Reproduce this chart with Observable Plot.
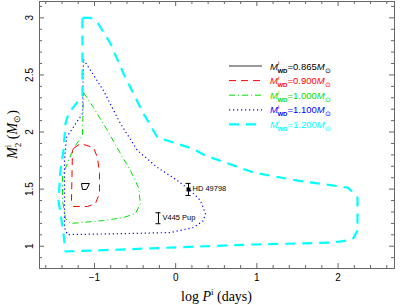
<!DOCTYPE html>
<html><head><meta charset="utf-8">
<script src="https://cdn.jsdelivr.net/npm/d3@7"></script>
<script src="https://cdn.jsdelivr.net/npm/@observablehq/plot@0.6"></script>
<style>body{margin:0;background:#fff} #c{width:401px;height:305px}</style>
</head><body><div id="c"></div>
<script>
// ---- data ----
const massLabels = ["0.865", "0.900", "1.000", "1.100", "1.200"];
const seriesColors = ["#000000", "#ff0000", "#00e000", "#0000ff", "#00ffff"];

const logP_0865 = [-1.160, -1.062, -1.099, -1.148, -1.160];
const m2_0865   = [1.549, 1.549, 1.497, 1.497, 1.549];

const logP_0900 = [-1.259, -1.172, -1.012, -0.963, -0.938, -0.938, -0.988, -1.086, -1.259, -1.283, -1.271, -1.259];
const m2_0900   = [1.856, 1.899, 1.864, 1.777, 1.637, 1.462, 1.374, 1.348, 1.348, 1.400, 1.838, 1.856];

const logP_1000 = [-1.135, -1.012, -0.840, -0.680, -0.557, -0.458, -0.434, -0.495, -0.643, -0.889, -1.296, -1.357, -1.394, -1.394, -1.259, -1.148, -1.135];
const m2_1000   = [2.345, 2.214, 2.013, 1.812, 1.663, 1.514, 1.374, 1.286, 1.251, 1.225, 1.199, 1.243, 1.400, 1.619, 1.856, 1.970, 2.345];

const logP_1100 = [-1.135, -0.889, -0.680, -0.470, -0.224, 0.022, 0.182, 0.305, 0.367, 0.342, 0.219, -0.064, -0.594, -1.333, -1.369, -1.369, -1.345, -1.148, -1.135];
const m2_1100   = [2.635, 2.363, 2.074, 1.838, 1.689, 1.575, 1.488, 1.400, 1.286, 1.225, 1.164, 1.120, 1.111, 1.102, 1.164, 1.750, 1.952, 2.162, 2.635];

const logP_1200 = [-1.148, -1.049, -0.963, -0.803, -0.643, -0.397, -0.224, -0.027, 0.207, 0.367, 0.958, 1.500, 2.116, 2.190, 2.239, 2.239, 2.177, 1.943, 0.958, 0.367, -0.680, -1.357, -1.382, -1.443, -1.419, -1.382, -1.357, -1.320, -1.148, -1.148];
const m2_1200   = [3.000, 3.000, 2.959, 2.775, 2.512, 2.162, 1.952, 1.908, 1.855, 1.794, 1.645, 1.575, 1.514, 1.470, 1.426, 1.137, 1.058, 1.032, 1.015, 1.000, 0.971, 0.954, 1.112, 1.400, 1.663, 1.838, 2.074, 2.162, 2.319, 3.000];

const objNames = ["HD 49798", "V445 Pup"];
const objLogP  = [0.158, -0.212];
const objM2    = [1.497, 1.245];
const objErr   = [0.053, 0.048];
const objFilled = [true, false];

const xMajor = [-1, 0, 1, 2];
const xMinor = [-1.6, -1.4, -1.2, -0.8, -0.6, -0.4, -0.2, 0.2, 0.4, 0.6, 0.8, 1.2, 1.4, 1.6, 1.8, 2.2, 2.4, 2.6];
const yMajor = [1, 1.5, 2, 2.5, 3];
const yMinor = [0.9, 1.1, 1.2, 1.3, 1.4, 1.6, 1.7, 1.8, 1.9, 2.1, 2.2, 2.3, 2.4, 2.6, 2.7, 2.8, 2.9, 3.1];

// ---- build ----
const series = [
  [logP_0865, m2_0865], [logP_0900, m2_0900], [logP_1000, m2_1000], [logP_1100, m2_1100], [logP_1200, m2_1200]
];
const lineStyle = [
  {strokeWidth: 1, dash: null},
  {strokeWidth: 1, dash: "7,5"},
  {strokeWidth: 1, dash: "6,3,1,3"},
  {strokeWidth: 1.2, dash: "1.2,2.8"},
  {strokeWidth: 2.2, dash: "10,7"}
];
const objects = objNames.map((n, i) => ({name: n, x: objLogP[i], y: objM2[i], lo: objM2[i] - objErr[i], hi: objM2[i] + objErr[i], filled: objFilled[i]}));

const W = 401, H = 305, mL = 39, mR = 7, mT = 1, mB = 37;
const xDom = [-1.677, 2.695], yDom = [0.805, 3.143];
const tickColor = "#666";
const fmt = d => (d < 0 ? "\u2212" + Math.abs(d) : String(d));

const marks = [];
series.forEach(([xs, ys], i) => {
  const rows = xs.map((x, j) => ({x, y: ys[j]}));
  marks.push(Plot.line(rows, {x: "x", y: "y", stroke: seriesColors[i], strokeWidth: lineStyle[i].strokeWidth,
    strokeDasharray: lineStyle[i].dash, strokeLinecap: "butt", curve: "linear"}));
});
// inward tick marks on all four sides, positioned by the scales
const tickX = (vals, len, atTop) => Plot.ruleX(vals, {x: d => d, y1: atTop ? yDom[1] : yDom[0], y2: atTop ? yDom[1] : yDom[0],
  ...(atTop ? {insetBottom: -len} : {insetTop: -len}), stroke: tickColor, strokeWidth: 1});
const tickY = (vals, len, atRight) => Plot.ruleY(vals, {y: d => d, x1: atRight ? xDom[1] : xDom[0], x2: atRight ? xDom[1] : xDom[0],
  ...(atRight ? {insetLeft: -len} : {insetRight: -len}), stroke: tickColor, strokeWidth: 1});
marks.push(
  Plot.ruleX(objects, {x: "x", y1: "lo", y2: "hi", stroke: "#000", strokeWidth: 1}),
  Plot.ruleY(objects, {y: "lo", x1: "x", x2: "x", insetLeft: -2.5, insetRight: -2.5, stroke: "#000"}),
  Plot.ruleY(objects, {y: "hi", x1: "x", x2: "x", insetLeft: -2.5, insetRight: -2.5, stroke: "#000"}),
  Plot.dot(objects.filter(d => d.filled), {x: "x", y: "y", symbol: "square", r: 2.2, fill: "#000", stroke: null}),
  Plot.text(objects, {x: "x", y: "y", text: "name", textAnchor: "start", dx: 4, dy: -1, fontSize: 7.5, fill: "#000",
    fontFamily: "Liberation Sans, Arial, sans-serif"}),
  Plot.frame({stroke: tickColor}),
  tickX(xMajor, 5, false), tickX(xMinor, 3, false), tickX(xMajor, 5, true), tickX(xMinor, 3, true),
  tickY(yMajor, 5, false), tickY(yMinor, 3, false), tickY(yMajor, 5, true), tickY(yMinor, 3, true),
  // tick labels
  Plot.axisX(xMajor, {anchor: "bottom", tickSize: 0, tickPadding: 5, tickFormat: fmt, label: null, fontSize: 10}),
  Plot.text(yMajor, {y: d => d, text: d => String(d), frameAnchor: "left", rotate: -90, dx: -10, fontSize: 10,
    fill: "#000", lineAnchor: "middle", textAnchor: "middle"})
);

const chart = Plot.plot({
  width: W, height: H, marginLeft: mL, marginRight: mR, marginTop: mT, marginBottom: mB,
  style: {fontFamily: "Liberation Sans, Arial, sans-serif", background: "#fff"},
  x: {domain: xDom, label: null},
  y: {domain: yDom, label: null, axis: null},
  marks
});
document.getElementById("c").appendChild(chart);

// ---- legend and axis titles (rich text) ----
const svg = d3.select(chart);
const lg = svg.append("g").attr("font-family", "Liberation Sans, Arial, sans-serif").attr("text-anchor", "start");
const legendLineColors = ["#777", "#ff0000", "#00e000", "#0000ff", "#00ffff"];
massLabels.forEach((m, i) => {
  const y = 66 + i * 14.6;
  lg.append("line").attr("x1", 229).attr("x2", 262).attr("y1", y).attr("y2", y)
    .attr("stroke", legendLineColors[i]).attr("stroke-width", i === 0 ? 1.5 : lineStyle[i].strokeWidth)
    .attr("stroke-dasharray", lineStyle[i].dash);
  const t = lg.append("text").attr("x", 270).attr("y", y + 3.5).attr("fill", seriesColors[i])
    .attr("font-size", 9.5).attr("text-anchor", "start");
  t.append("tspan").attr("font-style", "italic").text("M");
  t.append("tspan").attr("dy", -4.5).attr("font-size", 6).text("i");
  t.append("tspan").attr("dx", -1.8).attr("dy", 7.5).attr("font-size", 6).attr("font-weight", "bold").text("WD");
  t.append("tspan").attr("dy", -3).text("=" + m);
  t.append("tspan").attr("font-style", "italic").text("M");
  t.append("tspan").attr("dy", 3).attr("font-size", 7).text("\u2299");
});

const serif = "Liberation Serif, Times New Roman, serif";
const cx = (mL + W - mR) / 2;
const xl = svg.append("text").attr("x", cx).attr("y", 301).attr("text-anchor", "middle")
  .attr("font-family", serif).attr("font-size", 14).attr("fill", "#000");
xl.append("tspan").text("log ");
xl.append("tspan").attr("font-style", "italic").text("P");
xl.append("tspan").attr("dy", -6).attr("font-size", 9).text("i");
xl.append("tspan").attr("dy", 6).text(" (days)");

const cy = (mT + H - mB) / 2;
const yl = svg.append("text").attr("transform", `translate(17,${cy}) rotate(-90)`).attr("text-anchor", "middle")
  .attr("font-family", serif).attr("font-size", 14).attr("fill", "#000");
yl.append("tspan").attr("font-style", "italic").text("M");
yl.append("tspan").attr("dy", -6).attr("font-size", 9).text("i");
yl.append("tspan").attr("dx", -2.5).attr("dy", 10).attr("font-size", 9).text("2");
yl.append("tspan").attr("dy", -4).text(" (");
yl.append("tspan").attr("font-style", "italic").text("M");
yl.append("tspan").attr("dy", 3).attr("font-size", 9).text("\u2299");
yl.append("tspan").attr("dy", -3).text(")");
</script>
</body></html>
